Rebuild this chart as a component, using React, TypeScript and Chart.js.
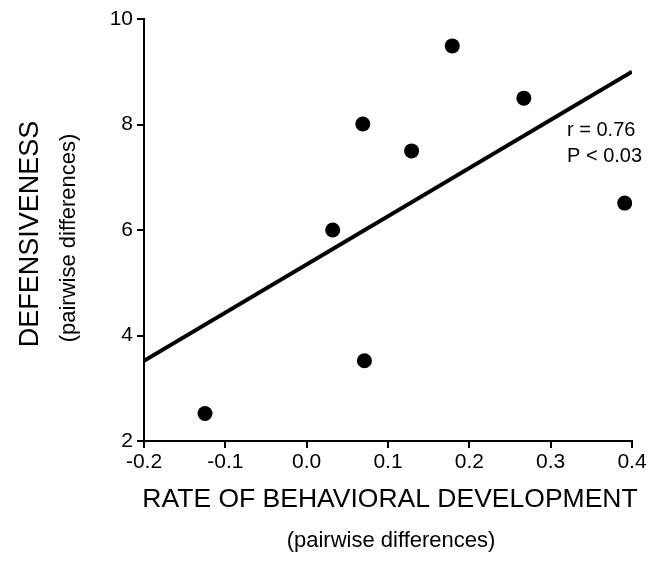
import React, { useEffect, useRef } from "react";
import { Chart, registerables } from "chart.js";

Chart.register(...registerables);

const pointsX = [-0.125, 0.032, 0.069, 0.071, 0.129, 0.179, 0.267, 0.391];
const pointsY = [2.52, 6.0, 8.01, 3.52, 7.5, 9.49, 8.5, 6.51];
const fitX = [-0.2, 0.4];
const fitY = [3.52, 9.0];
const xTicks = [-0.2, -0.1, 0.0, 0.1, 0.2, 0.3, 0.4];
const yTicks = [2, 4, 6, 8, 10];
const xTitle = "RATE OF BEHAVIORAL DEVELOPMENT";
const xSubtitle = "(pairwise differences)";
const yTitle = "DEFENSIVENESS";
const ySubtitle = "(pairwise differences)";
const statLines = ["r = 0.76", "P < 0.03"];

const FONT = "'Liberation Sans', Arial, Helvetica, sans-serif";

const titlesPlugin = {
  id: "titles",
  afterDraw(chart: any) {
    const ctx = chart.ctx;
    ctx.save();
    ctx.fillStyle = "#000";
    ctx.textAlign = "center";
    ctx.textBaseline = "middle";
    ctx.font = `26.5px ${FONT}`;
    ctx.fillText(xTitle, 390, 500);
    ctx.font = `22px ${FONT}`;
    ctx.fillText(xSubtitle, 391, 541);

    ctx.save();
    ctx.translate(31, 234);
    ctx.rotate(-Math.PI / 2);
    ctx.font = `27px ${FONT}`;
    ctx.fillText(yTitle, 0, 0);
    ctx.restore();
    ctx.save();
    ctx.translate(69, 238);
    ctx.rotate(-Math.PI / 2);
    ctx.font = `22px ${FONT}`;
    ctx.fillText(ySubtitle, 0, 0);
    ctx.restore();

    ctx.textAlign = "left";
    ctx.font = `20px ${FONT}`;
    ctx.fillText(statLines[0], 567, 130);
    ctx.fillText(statLines[1], 567, 156);
    ctx.restore();
  },
};

export default function App() {
  const ref = useRef<HTMLCanvasElement | null>(null);
  useEffect(() => {
    if (!ref.current) return;
    const chart = new Chart(ref.current, {
      type: "scatter",
      data: {
        datasets: [
          {
            type: "line",
            data: fitX.map((x, i) => ({ x, y: fitY[i] })),
            borderColor: "#000",
            borderWidth: 4,
            pointRadius: 0,
            fill: false,
          } as any,
          {
            data: pointsX.map((x, i) => ({ x, y: pointsY[i] })),
            backgroundColor: "#000",
            borderColor: "#000",
            pointRadius: 7.5,
            borderWidth: 0,
          },
        ],
      },
      plugins: [titlesPlugin],
      options: {
        responsive: false,
        animation: false,
        events: [],
        layout: { padding: { top: 19, right: 34, left: 0, bottom: 0 } },
        plugins: { legend: { display: false }, tooltip: { enabled: false } },
        scales: {
          x: {
            type: "linear",
            min: -0.2,
            max: 0.4,
            afterBuildTicks: (s: any) => {
              s.ticks = xTicks.map((v) => ({ value: v }));
            },
            afterFit: (s: any) => {
              s.height = 137;
            },
            ticks: {
              color: "#000",
              font: { family: FONT, size: 21 },
              padding: 2,
              maxRotation: 0,
              callback: (v: any) => Number(v).toFixed(1),
            },
            grid: {
              display: true,
              drawOnChartArea: false,
              drawTicks: true,
              tickLength: 7,
              color: "#000",
              lineWidth: 2,
            },
            border: { display: true, color: "#000", width: 2 },
          },
          y: {
            type: "linear",
            min: 2,
            max: 10,
            afterBuildTicks: (s: any) => {
              s.ticks = yTicks.map((v) => ({ value: v }));
            },
            afterFit: (s: any) => {
              s.width = 144;
            },
            ticks: {
              color: "#000",
              font: { family: FONT, size: 21 },
              padding: 4,
              callback: (v: any) => String(v),
            },
            grid: {
              display: true,
              drawOnChartArea: false,
              drawTicks: true,
              tickLength: 7,
              color: "#000",
              lineWidth: 2,
            },
            border: { display: true, color: "#000", width: 2 },
          },
        },
      },
    });
    return () => chart.destroy();
  }, []);
  return (
    <div style={{ position: "fixed", left: 0, top: 0, width: 666, height: 578, background: "#fff" }}>
      <canvas ref={ref} width={666} height={578} style={{ display: "block" }} />
    </div>
  );
}
